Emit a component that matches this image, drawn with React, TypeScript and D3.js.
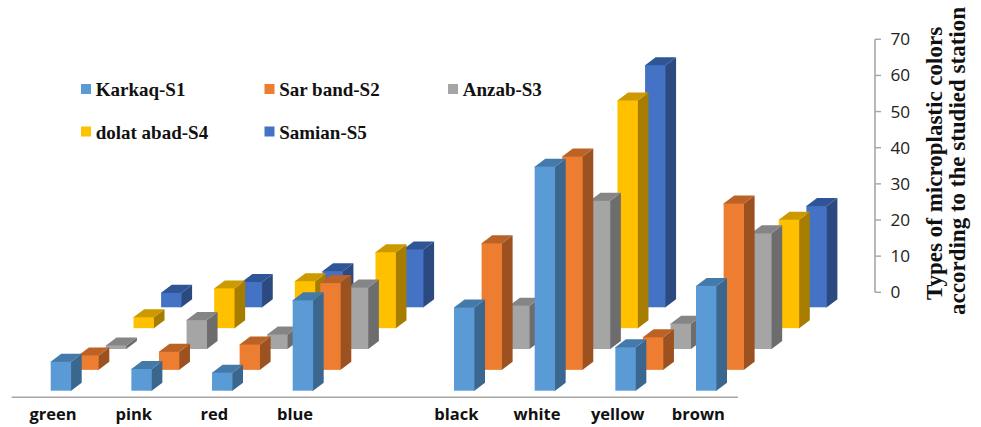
import React from "react";
import * as d3 from "d3";

const categories = ["green", "pink", "red", "blue", "", "black", "white", "yellow", "brown"];
const stations = ["Karkaq-S1", "Sar band-S2", "Anzab-S3", "dolat abad-S4", "Samian-S5"];
const karkaq = [8, 6, 5, 25, null, 23, 62, 12, 29];
const sarBand = [4, 5, 7, 24, null, 35, 59, 9, 46];
const anzab = [1, 8, 4, 17, null, 12, 41, 7, 32];
const dolatAbad = [3, 11, 13, 21, null, 10, 63, 5, 30];
const samian = [4, 7, 10, 16, null, 10, 67, 10, 28];
const axisTicks = [0, 10, 20, 30, 40, 50, 60, 70];
const titleLines = ["Types of microplastic colors", "according to the studied station"];

const seriesValues = [karkaq, sarBand, anzab, dolatAbad, samian];
const frontColors = ["#5B9BD5", "#ED7D31", "#A5A5A5", "#FFC000", "#4472C4"];
const sideColors = ["#3B678F", "#9B5120", "#6D6D6D", "#A67D00", "#2C4A80"];
const topColors = ["#447AA9", "#BB6226", "#858585", "#CC9A00", "#2F5597"];

const WIDTH = 981;
const HEIGHT = 427;
const UNIT_HEIGHT = 36.14;
const BAR_WIDTH = 20.4;
const SIDE_DX = 10.6;
const SIDE_DY = 8;
// Faces overlap under the front rectangle so no hairline shows between them.
const FACE_OVERLAP = 0.8;

// Front-row bar position for each category slot.
const xCategory = d3.scaleLinear().domain([0, 8]).range([50.7, 696]);
// Oblique shift of each station row going back into the chart.
const xDepth = d3.scaleLinear().domain([0, 4]).range([0, 110.4]);
const yBase = d3.scaleLinear().domain([0, 4]).range([390.7, 307.3]);
// Bar heights and the wall axis share the same unit.
const yAxis = d3.scaleLinear().domain([0, 70]).range([292.3, 39.3]);
const barHeight = (v: number) => (v * UNIT_HEIGHT) / 10;

const poly = d3.line<[number, number]>();

function Bar({ cat, row, value }: { cat: number; row: number; value: number }) {
  const x0 = xCategory(cat) + xDepth(row);
  const base = yBase(row);
  const top = base - barHeight(value);
  const x1 = x0 + BAR_WIDTH;
  const topFace = poly([
    [x0, top + FACE_OVERLAP],
    [x0, top],
    [x0 + SIDE_DX, top - SIDE_DY],
    [x1 + SIDE_DX, top - SIDE_DY],
    [x1, top],
    [x1, top + FACE_OVERLAP],
  ]) + "Z";
  const sideFace = poly([
    [x1 - FACE_OVERLAP, top],
    [x1, top],
    [x1 + SIDE_DX, top - SIDE_DY],
    [x1 + SIDE_DX, base - SIDE_DY],
    [x1, base],
    [x1 - FACE_OVERLAP, base],
  ]) + "Z";
  return (
    <g>
      <path d={sideFace} fill={sideColors[row]} />
      <path d={topFace} fill={topColors[row]} />
      <rect x={x0} y={top} width={BAR_WIDTH} height={base - top} fill={frontColors[row]} />
    </g>
  );
}

const legendX = [81, 264.5, 448];
const legendY = [84, 126.5];

export default function App() {
  const rowsBackToFront = d3.range(4, -1, -1);
  return (
    <svg
      width={WIDTH}
      height={HEIGHT}
      viewBox={`0 0 ${WIDTH} ${HEIGHT}`}
      style={{ position: "absolute", left: 0, top: 0, display: "block", background: "#fff" }}
    >
      {rowsBackToFront.map((row) =>
        categories.map((_, cat) => {
          const v = seriesValues[row][cat];
          return v == null ? null : <Bar key={`${row}-${cat}`} cat={cat} row={row} value={v} />;
        })
      )}

      {/* category axis */}
      <line x1={11.7} x2={738} y1={397.3} y2={397.3} stroke="#A6A6A6" strokeWidth={1.6} />
      {categories.map((c, i) => (
        <text
          key={i}
          x={xCategory(i) + 2.4}
          y={420}
          textAnchor="middle"
          fontFamily="'Open Sans', sans-serif"
          fontWeight={700}
          fontSize={16.5}
          fill="#111"
        >
          {c}
        </text>
      ))}

      {/* value axis */}
      <line x1={875} x2={875} y1={yAxis(70)} y2={yAxis(0)} stroke="#A6A6A6" strokeWidth={1.6} />
      {axisTicks.map((t) => (
        <g key={t}>
          <line x1={875} x2={881} y1={yAxis(t)} y2={yAxis(t)} stroke="#A6A6A6" strokeWidth={1.4} />
          <text
            x={890.5}
            y={yAxis(t) + 6}
            fontFamily="'Open Sans', sans-serif"
            fontSize={17.2}
            fill="#222"
          >
            {t}
          </text>
        </g>
      ))}

      {/* value axis title */}
      {titleLines.map((line, i) => (
        <text
          key={line}
          transform={`translate(${[941.5, 965][i]},${[163.5, 161][i]}) rotate(-90)`}
          textAnchor="middle"
          fontFamily="'Liberation Serif', serif"
          fontWeight={700}
          fontSize={23}
          fill="#111"
        >
          {line}
        </text>
      ))}

      {/* legend */}
      {stations.map((s, i) => {
        const col = i < 3 ? i : i - 3;
        const row = i < 3 ? 0 : 1;
        return (
          <g key={s}>
            <rect x={legendX[col]} y={legendY[row]} width={10} height={10} fill={frontColors[i]} />
            <text
              x={legendX[col] + 14.7}
              y={legendY[row] + 12}
              fontFamily="'Liberation Serif', serif"
              fontWeight={700}
              fontSize={19}
              fill="#111"
            >
              {s}
            </text>
          </g>
        );
      })}
    </svg>
  );
}
